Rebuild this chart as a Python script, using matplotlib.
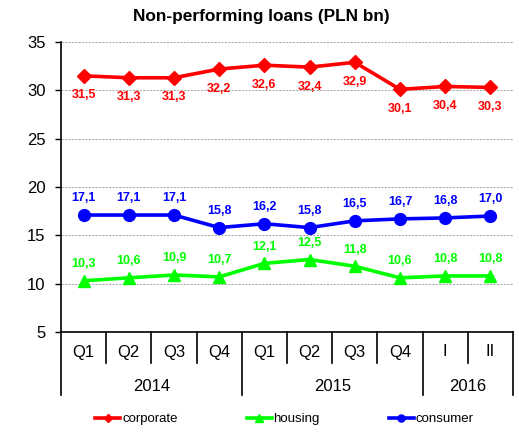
import matplotlib
matplotlib.use("Agg")
import matplotlib.pyplot as plt
from matplotlib.lines import Line2D
import matplotlib.transforms as mtransforms

plt.rcParams['font.family'] = ['Liberation Sans', 'DejaVu Sans']

periods = ["Q1", "Q2", "Q3", "Q4", "Q1", "Q2", "Q3", "Q4", "I", "II"]
years = ["2014", "2015", "2016"]
year_spans = [(0, 4), (4, 8), (8, 10)]
corporate = [31.5, 31.3, 31.3, 32.2, 32.6, 32.4, 32.9, 30.1, 30.4, 30.3]
housing = [10.3, 10.6, 10.9, 10.7, 12.1, 12.5, 11.8, 10.6, 10.8, 10.8]
consumer = [17.1, 17.1, 17.1, 15.8, 16.2, 15.8, 16.5, 16.7, 16.8, 17.0]
series_names = ["corporate", "housing", "consumer"]

fig = plt.figure(figsize=(5.19, 4.32), dpi=100)
ax = fig.add_axes([61/519, 1 - 332/432, (513 - 61)/519, (332 - 42)/432])

n = len(periods)
x = list(range(n))
styles = [
    (corporate, "#FF0000", "D", 7.5, -14.0),
    (housing, "#00FF00", "^", 8.5, 12.0),
    (consumer, "#0000FF", "o", 8.5, 12.0),
]
for (vals, col, mk, ms, off), name in zip(styles, series_names):
    ax.plot(x, vals, color=col, lw=2.6, marker=mk, ms=ms, mec=col, mfc=col,
            label=name, zorder=3)
    for xi, v in zip(x, vals):
        ax.annotate(f"{v:.1f}".replace(".", ","), xy=(xi, v),
                    xytext=(0, off), textcoords="offset points",
                    ha="center", va="center", color=col, fontsize=9,
                    fontweight="bold", zorder=4)

ax.set_xlim(-0.5, n - 0.5)
ax.set_ylim(5, 35)
ax.set_yticks([5, 10, 15, 20, 25, 30, 35])
ax.tick_params(axis="y", direction="out", length=4, width=1, pad=7, labelsize=12,
               colors="black")
ax.set_xticks([])
for yv in [10, 15, 20, 25, 30, 35]:
    ax.axhline(yv, color="#a6a6a6", lw=0.7, ls=(0, (2.2, 1.3)), zorder=1)

for s in ["top", "right"]:
    ax.spines[s].set_visible(False)
ax.spines["left"].set_linewidth(1.2)
ax.spines["bottom"].set_linewidth(1.2)

trans = mtransforms.blended_transform_factory(ax.transData, ax.transAxes)
h_ax = (332 - 42)
short = -(363 - 332) / h_ax
long_ = -(395 - 332) / h_ax
year_bounds = set()
for a, b in year_spans:
    year_bounds.add(a)
    year_bounds.add(b)
for k in range(n + 1):
    y0 = long_ if k in year_bounds else short
    ax.add_line(Line2D([k - 0.5, k - 0.5], [0, y0], transform=trans, color="black",
                       lw=1.2, clip_on=False))

for xi, lab in zip(x, periods):
    ax.annotate(lab, xy=(xi, 0), xycoords=trans, xytext=(0, -14.4),
                textcoords="offset points", ha="center", va="center", fontsize=12)
for (a, b), yr in zip(year_spans, years):
    ax.annotate(yr, xy=((a + b - 1) / 2, 0), xycoords=trans, xytext=(0, -38.9),
                textcoords="offset points", ha="center", va="center", fontsize=12)

fig.text(261/519, 1 - 17/432, "Non-performing loans (PLN bn)", ha="center", va="center",
         fontsize=12.4, fontweight="bold")

handles, labels = ax.get_legend_handles_labels()
leg = fig.legend(handles, labels, loc="center", bbox_to_anchor=(284.5/519, 1 - 419/432),
                 ncol=3, frameon=False, fontsize=9.5, handlelength=1.9,
                 handletextpad=0.15, columnspacing=5.2, markerscale=0.6,
                 borderpad=0, borderaxespad=0)

fig.savefig("out.png", dpi=100)
